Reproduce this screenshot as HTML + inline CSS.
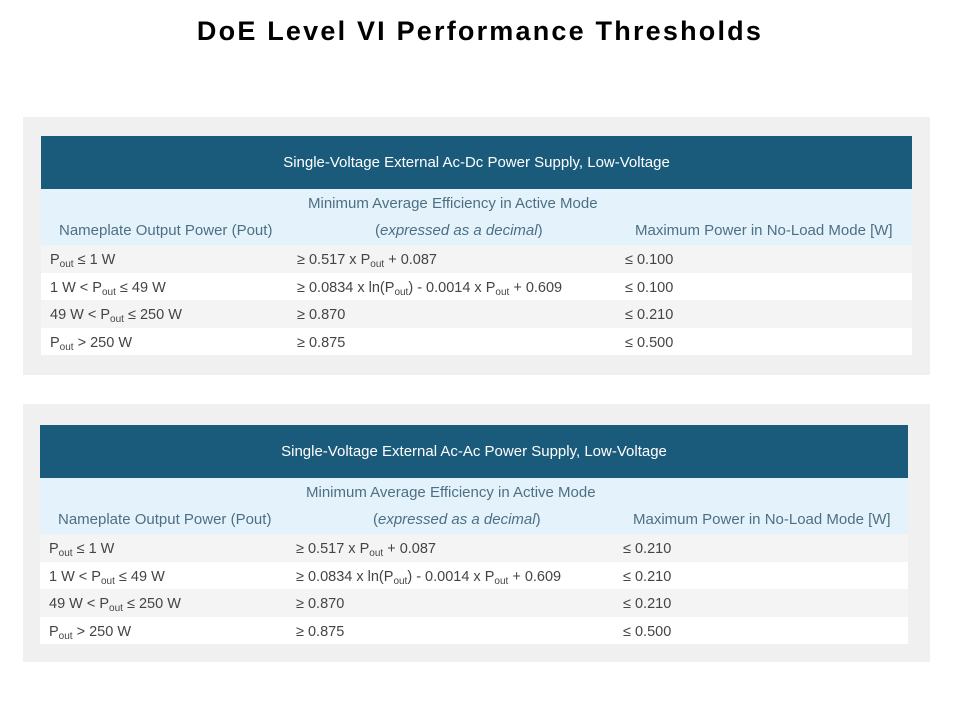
<!DOCTYPE html>
<html><head><meta charset="utf-8"><style>
body{margin:0;width:960px;height:720px;background:#fff;font-family:"Liberation Sans",sans-serif;position:relative;overflow:hidden}
h1{position:absolute;top:16px;left:0;width:960px;margin:0;text-align:center;font-size:27px;font-weight:bold;color:#000;letter-spacing:2.2px}
.panel{position:absolute;left:23px;width:907px;height:258px;background:#f0f0f0}
.tbl{position:absolute;background:#fff;color:#444;font-size:14.5px}
.hd{position:absolute;left:0;right:0;top:0;height:53px;background:#1a5b7b;color:#fff;text-align:center;line-height:53px;font-size:15px}
.sub{position:absolute;left:0;right:0;top:53px;height:56px;background:#e4f3fb;color:#4d6f84;font-size:15px}
.sub span{position:absolute;white-space:nowrap}
.row{position:absolute;left:0;right:0;height:27.5px;line-height:31px}
.row span{position:absolute;white-space:nowrap}
.g{background:#f4f4f4}
sub{font-size:10px;vertical-align:-3px;line-height:0}
</style></head><body>
<h1>DoE Level VI Performance Thresholds</h1>

<div class="panel" style="top:117px"></div>
<div class="tbl" style="left:41px;top:136px;width:871px;height:219px">
<div class="hd">Single-Voltage External Ac-Dc Power Supply, Low-Voltage</div>
<div class="sub"><span style="left:267px;top:6px">Minimum Average Efficiency in Active Mode</span><span style="left:18px;top:33px">Nameplate Output Power (Pout)</span><span style="left:334px;top:33px">(<i>expressed as a decimal</i>)</span><span style="left:594px;top:33px">Maximum Power in No-Load Mode [W]</span></div>
<div class="row g" style="top:109px"><span style="left:9px">P<sub>out</sub> ≤ 1 W</span><span style="left:256px">≥ 0.517 x P<sub>out</sub> + 0.087</span><span style="left:584px">≤ 0.100</span></div>
<div class="row" style="top:136.5px"><span style="left:9px">1 W &lt; P<sub>out</sub> ≤ 49 W</span><span style="left:256px">≥ 0.0834 x ln(P<sub>out</sub>) - 0.0014 x P<sub>out</sub> + 0.609</span><span style="left:584px">≤ 0.100</span></div>
<div class="row g" style="top:164px"><span style="left:9px">49 W &lt; P<sub>out</sub> ≤ 250 W</span><span style="left:256px">≥ 0.870</span><span style="left:584px">≤ 0.210</span></div>
<div class="row" style="top:191.5px"><span style="left:9px">P<sub>out</sub> &gt; 250 W</span><span style="left:256px">≥ 0.875</span><span style="left:584px">≤ 0.500</span></div>
</div>

<div class="panel" style="top:404px"></div>
<div class="tbl" style="left:40px;top:425px;width:868px;height:219px">
<div class="hd">Single-Voltage External Ac-Ac Power Supply, Low-Voltage</div>
<div class="sub"><span style="left:266px;top:6px">Minimum Average Efficiency in Active Mode</span><span style="left:18px;top:33px">Nameplate Output Power (Pout)</span><span style="left:333px;top:33px">(<i>expressed as a decimal</i>)</span><span style="left:593px;top:33px">Maximum Power in No-Load Mode [W]</span></div>
<div class="row g" style="top:109px"><span style="left:9px">P<sub>out</sub> ≤ 1 W</span><span style="left:256px">≥ 0.517 x P<sub>out</sub> + 0.087</span><span style="left:583px">≤ 0.210</span></div>
<div class="row" style="top:136.5px"><span style="left:9px">1 W &lt; P<sub>out</sub> ≤ 49 W</span><span style="left:256px">≥ 0.0834 x ln(P<sub>out</sub>) - 0.0014 x P<sub>out</sub> + 0.609</span><span style="left:583px">≤ 0.210</span></div>
<div class="row g" style="top:164px"><span style="left:9px">49 W &lt; P<sub>out</sub> ≤ 250 W</span><span style="left:256px">≥ 0.870</span><span style="left:583px">≤ 0.210</span></div>
<div class="row" style="top:191.5px"><span style="left:9px">P<sub>out</sub> &gt; 250 W</span><span style="left:256px">≥ 0.875</span><span style="left:583px">≤ 0.500</span></div>
</div>
</body></html>
